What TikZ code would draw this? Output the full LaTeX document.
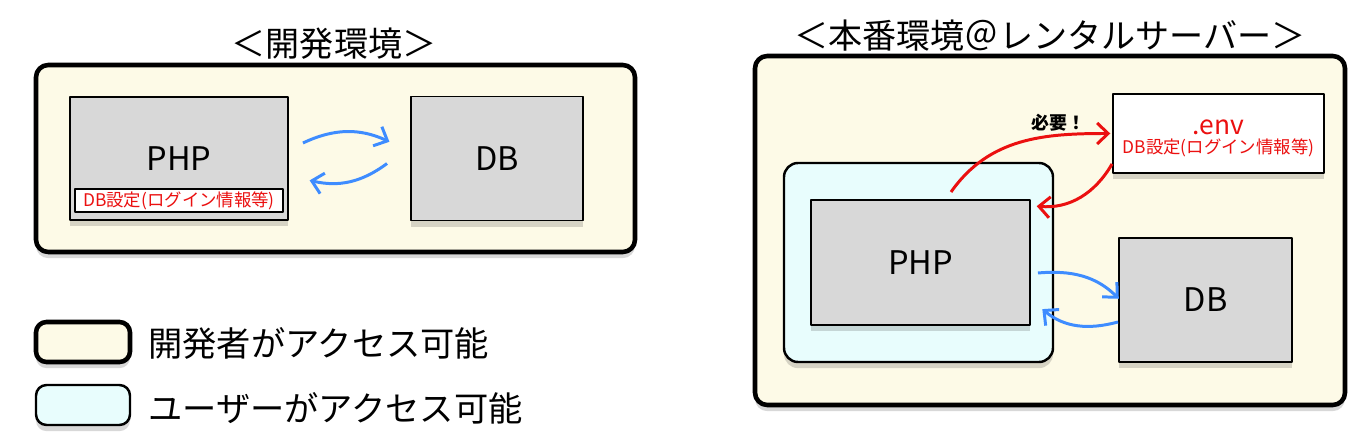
\documentclass[tikz,border=0pt]{standalone}
\usepackage{fontspec}
\setmainfont{Noto Sans CJK JP}
\usetikzlibrary{arrows.meta,shadows}

\definecolor{devcream}{RGB}{253,250,231}
\definecolor{usercyan}{RGB}{232,253,253}
\definecolor{boxgray}{RGB}{216,216,216}
\definecolor{linkblue}{RGB}{62,140,255}
\definecolor{cfgred}{RGB}{235,16,16}

\begin{document}
\begin{tikzpicture}[>={Straight Barb[length=2.2mm,width=4.2mm]},shorten >=1pt,line join=round,
	softshadow/.style={drop shadow={shadow xshift=0pt,shadow yshift=-3.5pt,opacity=0.22,fill=black!70}},
	devarea/.style={draw,line width=2.6pt,rounded corners=7pt,fill=devcream,softshadow},
	userarea/.style={draw,line width=1.4pt,rounded corners=8pt,fill=usercyan,softshadow},
	srvbox/.style={draw,line width=1.1pt,fill=boxgray,inner sep=0pt,font=\fontsize{18.5pt}{20pt}\selectfont,softshadow},
	cfgbox/.style={draw,line width=1.1pt,fill=white,inner sep=0pt,text=cfgred,font=\fontsize{9.9pt}{11pt}\selectfont},
	heading/.style={font=\fontsize{19.4pt}{22pt}\selectfont},
	legendtext/.style={anchor=west,font=\fontsize{19.5pt}{22pt}\selectfont},
	bluelink/.style={linkblue,line width=1.7pt},
	redlink/.style={cfgred,line width=1.7pt}]

\useasboundingbox (0,0) rectangle (27.3,-8.96);

% development
\node[heading]   (devtitle) at (6.68,-0.88)   {＜開発環境＞};
\node[devarea,minimum width=11.98cm,minimum height=3.74cm]   (devenv) at (6.71,-3.17)   {};
\node[srvbox,minimum width=4.36cm,minimum height=2.46cm]   (lphp) at (3.58,-3.17)   {PHP};
\node[cfgbox,minimum width=4.16cm,minimum height=0.46cm]   (lcfg) at (3.58,-4.01)   {DB設定(ログイン情報等)};
\node[srvbox,minimum width=3.44cm,minimum height=2.48cm,node distance=6.36cm]   (ldb)[right of=lphp]   {DB};

	\path[->,bluelink] ([xshift=0.28cm,yshift=0.31cm]lphp.east)  edge[bend left=25]  ([xshift=-0.38cm,yshift=0.32cm]ldb.west)
						([xshift=-0.46cm,yshift=-0.1cm]ldb.west)  edge[bend left=25]  ([xshift=0.38cm,yshift=-0.43cm]lphp.east);

% production
\node[heading]   (prodtitle) at (21.0,-0.72)   {＜本番環境＠レンタルサーバー＞};
\node[devarea,minimum width=11.8cm,minimum height=6.98cm]   (prodenv) at (21.0,-4.61)   {};
\node[userarea,minimum width=5.38cm,minimum height=3.98cm]   (userenv) at (18.37,-5.25)   {};
\node[srvbox,minimum width=4.38cm,minimum height=2.5cm]   (rphp) at (18.41,-5.25)   {PHP};
\node[srvbox,minimum width=3.46cm,minimum height=2.48cm]   (rdb) at (24.11,-6.0)   {DB};
\node[cfgbox,softshadow,minimum width=4.22cm,minimum height=1.58cm]   (env) at (24.37,-2.67)   {};
\node[text=cfgred,font=\fontsize{15pt}{16pt}\selectfont]   (envname) at ([yshift=0.13cm]env.center)   {.env};
\node[text=cfgred,font=\fontsize{9.9pt}{11pt}\selectfont]   (envcfg) at ([yshift=-0.29cm]env.center)   {DB設定(ログイン情報等)};

	\path[->,redlink] ([xshift=0.61cm,yshift=0.14cm]rphp.north)  edge[out=55,in=180]
							node[pos=0.72,above=-2pt,black,font=\fontsize{10.2pt}{12pt}\selectfont\bfseries]{必要！}  (env.west)
						([yshift=0.2cm]env.south west)  edge[out=240,in=-5]  ([xshift=0.08cm,yshift=-0.14cm]rphp.north east);
	\path[->,bluelink] ([xshift=0.14cm,yshift=-0.21cm]rphp.east)  edge[out=5,in=135]  ([xshift=0.04cm]rdb.west)
						([yshift=-0.44cm]rdb.west)  edge[out=195,in=-40]  ([xshift=0.2cm,yshift=-0.91cm]rphp.east);

% legend
\node[devarea,rounded corners=6pt,minimum width=1.88cm,minimum height=0.8cm]   (devkey) at (1.66,-6.84)   {};
\node[userarea,rounded corners=6pt,minimum width=1.88cm,minimum height=0.8cm]   (userkey) at (1.66,-8.1)   {};
\node[legendtext]   (devkeytext) at (2.84,-6.86)   {開発者がアクセス可能};
\node[legendtext]   (userkeytext) at (2.84,-8.16)   {ユーザーがアクセス可能};

\end{tikzpicture}
\end{document}
